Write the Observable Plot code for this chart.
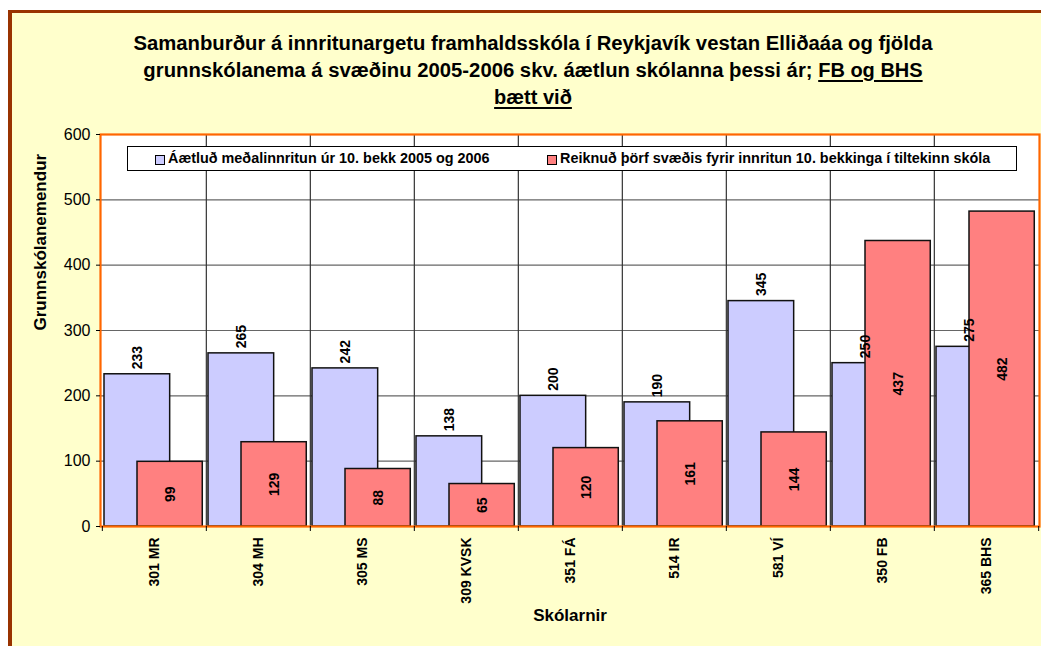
<!DOCTYPE html>
<html><head><meta charset="utf-8">
<script src="https://cdn.jsdelivr.net/npm/d3@7"></script>
<script src="https://cdn.jsdelivr.net/npm/@observablehq/plot@0.6"></script>
<style>
body{margin:0;background:#fff;font-family:"Liberation Sans",Arial,sans-serif;}
#page{position:relative;width:1041px;height:646px;overflow:hidden;}
#bg{position:absolute;left:8px;top:10px;right:0;bottom:0;background:#FFFFCC;border-top:3px solid #993300;border-left:4px solid #993300;}
#title{position:absolute;left:20px;width:1026px;top:30px;text-align:center;font-family:"Liberation Sans Narrow","Liberation Sans",Arial,sans-serif;font-weight:bold;font-size:20.3px;line-height:27px;color:#000;}
#title u{font-family:"Liberation Sans",Arial,sans-serif;font-size:20px;text-decoration-thickness:2px;text-underline-offset:3px;}
#chart{position:absolute;left:0;top:120px;}
#legend{position:absolute;left:127px;top:146px;width:888px;height:23px;background:#fff;border:1px solid #000;font-weight:bold;font-size:14.4px;color:#000;}
.sw{position:absolute;top:8px;width:8px;height:8px;border:1px solid #000;}
.lt{position:absolute;top:3px;white-space:nowrap;}
</style></head><body>
<div id="page"><div id="bg"></div><div id="chart"></div>
<div id="title">Samanburður á innritunargetu framhaldsskóla í Reykjavík vestan Elliðaáa og fjölda<br>grunnskólanema á svæðinu 2005-2006 skv. áætlun skólanna þessi ár; <u>FB og BHS</u><br><u>bætt við</u></div>
<div id="legend"></div></div>
<script>
const schools = ["301 MR","304 MH","305 MS","309 KVSK","351 FÁ","514 IR","581 VÍ","350 FB","365 BHS"];
const planned = [233,265,242,138,200,190,345,250,275];
const needed = [99,129,88,65,120,161,144,437,482];
const seriesNames = ["Áætluð meðalinnritun úr 10. bekk 2005 og 2006","Reiknuð þörf svæðis fyrir innritun 10. bekkinga í tiltekinn skóla"];
const seriesColors = ["#CCCCFF","#FF8080"];
const yTicks = [0,100,200,300,400,500,600];
const xTitle = "Skólarnir";
const yTitle = "Grunnskólanemendur";

const blue = schools.map((s,i)=>({school:s, value:planned[i]}));
const red = schools.map((s,i)=>({school:s, value:needed[i]}));

const W = 1041, H = 526, mL = 100, mR = 2, mT = 14, mB = 120;
const bw = (W - mL - mR) / schools.length;

const font = "'Liberation Sans', Arial, sans-serif";
const chart = Plot.plot({
  width: W, height: H,
  marginLeft: mL, marginRight: mR, marginTop: mT, marginBottom: mB,
  style: {background: "transparent", fontFamily: font, color: "#000"},
  x: {type: "band", domain: schools, padding: 0},
  y: {domain: [0, 600]},
  marks: [
    Plot.frame({fill: "white", stroke: null}),
    Plot.gridY(yTicks.slice(1, -1), {stroke: "#666", strokeOpacity: 1, strokeWidth: 1.2}),
    Plot.ruleX(schools.slice(1), {x: d => d, dx: -bw/2, stroke: "#333", strokeWidth: 1.2}),
    Plot.barY(blue, {x: "school", y: "value", fill: seriesColors[0], stroke: "#111", strokeWidth: 1.5, insetLeft: 2, insetRight: bw - 68}),
    Plot.barY(red, {x: "school", y: "value", fill: seriesColors[1], stroke: "#111", strokeWidth: 1.5, insetLeft: 35, insetRight: bw - 100.6}),
    Plot.text(blue, {x: "school", y: "value", text: d => String(d.value), rotate: -90, textAnchor: "start", lineAnchor: "middle", dx: 35 - bw/2, dy: -5, fontSize: 14, fontWeight: "bold", fill: "#000"}),
    Plot.text(red, {x: "school", y: d => d.value/2, text: d => String(d.value), rotate: -90, textAnchor: "middle", lineAnchor: "middle", dx: 67.8 - bw/2, fontSize: 14, fontWeight: "bold", fill: "#000"}),
    Plot.frame({stroke: "#FF6600", strokeWidth: 2.2}),
    Plot.axisY({ticks: yTicks, tickSize: 4, tickPadding: 6, fontSize: 16, label: null, stroke: "#000"}),
    Plot.axisX({ticks: schools, tickSize: 5, dx: -bw/2, tickFormat: () => "", label: null, stroke: "#000"}),
    Plot.axisX({ticks: schools.slice(-1), tickSize: 5, dx: bw/2, tickFormat: () => "", label: null, stroke: "#000"}),
    Plot.axisX({tickSize: 0, tickPadding: 11, tickRotate: -90, fontSize: 14, fontWeight: "bold", label: null}),
    Plot.text([xTitle], {frameAnchor: "bottom", dy: 94, fontSize: 17, fontWeight: "bold", fill: "#000"}),
    Plot.text([yTitle], {frameAnchor: "left", dx: -60, rotate: -90, fontSize: 17, fontWeight: "bold", fill: "#000"})
  ]
});
document.getElementById("chart").appendChild(chart);

const legend = document.getElementById("legend");
const swX = [27, 419], txX = [40, 432];
seriesNames.forEach((n, i) => {
  const sw = document.createElement("div");
  sw.className = "sw"; sw.style.left = swX[i] + "px"; sw.style.background = seriesColors[i];
  legend.appendChild(sw);
  const t = document.createElement("div");
  t.className = "lt"; t.style.left = txX[i] + "px"; t.textContent = n;
  legend.appendChild(t);
});
</script>
</body></html>
